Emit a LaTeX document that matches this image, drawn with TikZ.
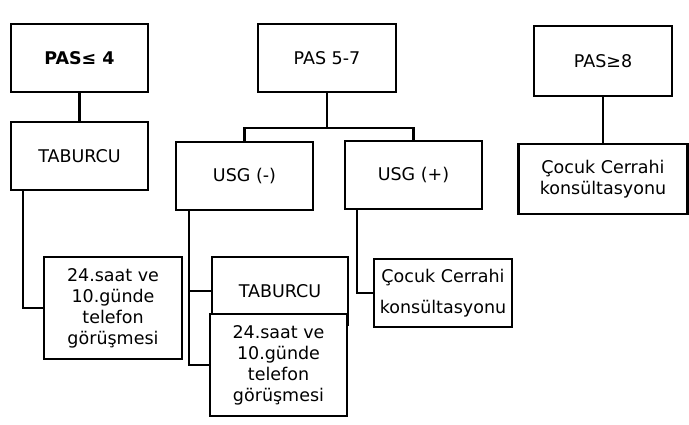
\documentclass[tikz,border=0pt]{standalone}
\usepackage{fontspec}
\setmainfont{DejaVu Sans}
\usepackage{tikz}
\usetikzlibrary{positioning}

\begin{document}
\begin{tikzpicture}[
        x=1pt, y=-1pt,
        pasbox/.style={
            draw,
            line width=2.2pt,
            fill=white,
            align=center,
            inner sep=0pt,
            minimum width=137pt,
            minimum height=68pt,
            font=\fontsize{17.5}{21}\selectfont
        },
        notebox/.style={
            pasbox,
            minimum height=102pt
        },
        link/.style={line width=2.2pt}
    ]
        \useasboundingbox (0,0) rectangle (689,425);

        % top row
        \node[pasbox] (pasfour) at (79.5,58) {\textbf{PAS≤ 4}};
        \node[pasbox, minimum width=138pt] (pasmid) at (327,58) {PAS 5-7};
        \node[pasbox, minimum width=138pt, minimum height=70pt] (pashigh) at (603,61) {PAS≥8};

        % left branch
        \node[pasbox, below=28pt of pasfour] (taburcuA) {TABURCU};
        \node[notebox, minimum width=138pt] (telefonA) at (113,308) {24.saat ve\\10.günde\\telefon\\görüşmesi};

        % middle branch
        \node[pasbox] (usgneg) at (244.5,176) {USG (-)};
        \node[pasbox] (usgpos) at (413.5,175) {USG (+)};
        \node[pasbox, minimum width=136pt] (taburcuB) at (280,291) {TABURCU};
        \node[notebox] (telefonB) at (278.5,365) {24.saat ve\\10.günde\\telefon\\görüşmesi};
        \node[pasbox, minimum width=138pt, font=\fontsize{17.5}{31}\selectfont] (cerrahiB) at (443,293) {Çocuk Cerrahi\\konsültasyonu};

        % right branch
        \node[pasbox, minimum width=169pt, minimum height=70pt, below=46pt of pashigh] (cerrahiA) {Çocuk Cerrahi\\konsültasyonu};

        \draw[link] (pasfour) -- (taburcuA);
        \draw[link] ([xshift=13pt]taburcuA.south west) |- (telefonA.west);

        \draw[link] (pasmid.south) -- ++(0,35) coordinate (split);
        \draw[link] (split) -| (usgneg.north);
        \draw[link] (split) -| (usgpos.north);
        \draw[link] ([xshift=14pt]usgneg.south west) |- (taburcuB.west);
        \draw[link] ([xshift=14pt]usgneg.south west) |- (telefonB.west);
        \draw[link] ([xshift=13pt]usgpos.south west) |- (cerrahiB.west);

        \draw[link] (pashigh) -- (cerrahiA);
    \end{tikzpicture}
\end{document}
